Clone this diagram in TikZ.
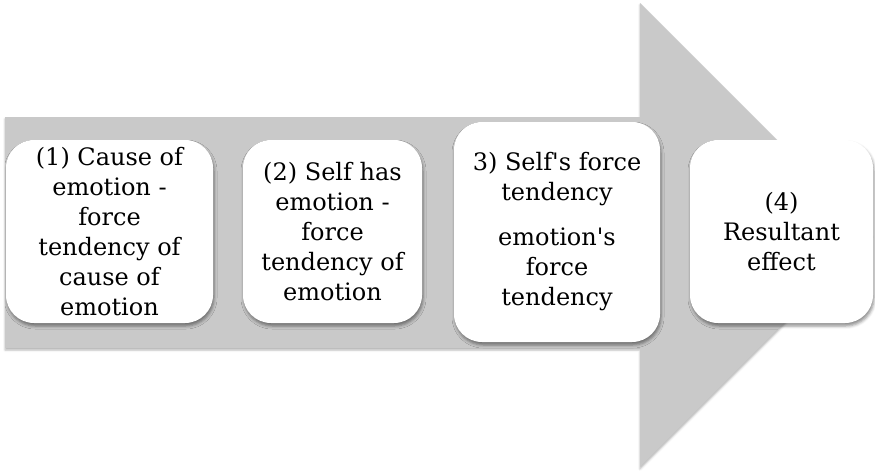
\documentclass[tikz,border=0pt]{standalone}
\usepackage{fontspec}
\setmainfont{DejaVu Serif}
\usetikzlibrary{shadows.blur}
\definecolor{arrowgray}{HTML}{C9C9C9}
\tikzset{
  stagebox/.style={draw=none, fill=white, rounded corners=28pt, align=center,
    inner sep=0pt, font=\fontsize{24}{30}\selectfont,
    blur shadow={shadow xshift=1pt, shadow yshift=-3pt, shadow blur radius=3pt, shadow opacity=45}},
  bigarrow/.style={fill=arrowgray, draw=none,
    blur shadow={shadow xshift=0pt, shadow yshift=-2pt, shadow blur radius=2pt, shadow opacity=30}}
}
\begin{document}
\begin{tikzpicture}[x=1pt, y=-1pt]
\useasboundingbox (0,0) rectangle (875,471);
\fill[bigarrow] (5,117) -- (640,117) -- (640,3) -- (872,235) -- (640,467) -- (640,348) -- (5,348) -- cycle;
\node[stagebox, minimum width=207pt, minimum height=183pt] (b1) at (109.5,231.5)
  {(1) Cause of\\emotion -\\force\\tendency of\\cause of\\emotion};
\node[stagebox, minimum width=179pt, minimum height=183pt] (b2) at (332.5,231.5)
  {(2) Self has\\emotion -\\force\\tendency of\\emotion};
\node[stagebox, minimum width=206pt, minimum height=220pt] (b3) at (557,232)
  {3) Self\textquotesingle s force\\tendency\\[15pt]emotion\textquotesingle s\\force\\tendency};
\node[stagebox, minimum width=183pt, minimum height=183pt] (b4) at (781.5,231.5)
  {(4)\\Resultant\\effect};
\end{tikzpicture}
\end{document}
